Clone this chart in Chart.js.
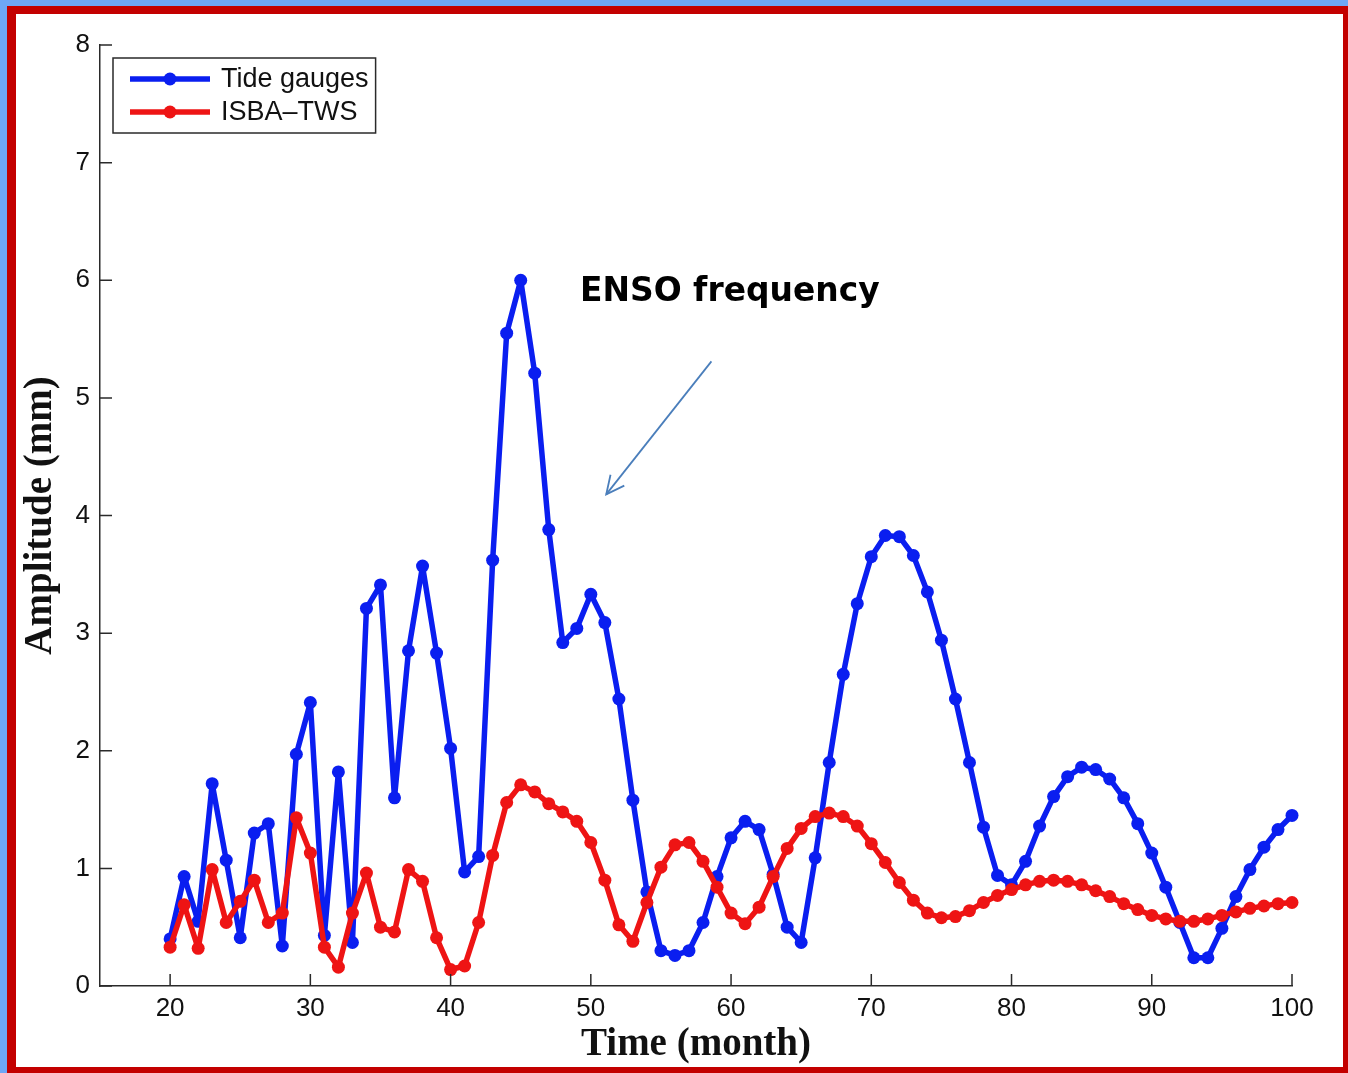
<!DOCTYPE html>
<html>
<head>
<meta charset="utf-8">
<script src="https://cdn.jsdelivr.net/npm/chart.js@4/dist/chart.umd.min.js"></script>
<style>
html,body{margin:0;padding:0;width:1348px;height:1073px;overflow:hidden;background:#6ea7f6}
#frame{position:absolute;left:7px;top:6px;width:1327px;height:1053px;background:#fff;border-style:solid;border-color:#c30000;border-width:8px 5px 6px 9px}
#c{position:absolute;left:0;top:0}
</style>
</head>
<body>
<div id="frame"></div>
<canvas id="c" width="1348" height="1073"></canvas>
<script>
// ---- data ----
const months = [20,21,22,23,24,25,26,27,28,29,30,31,32,33,34,35,36,37,38,39,40,
  41,42,43,44,45,46,47,48,49,50,51,52,53,54,55,56,57,58,59,60,
  61,62,63,64,65,66,67,68,69,70,71,72,73,74,75,76,77,78,79,80,
  81,82,83,84,85,86,87,88,89,90,91,92,93,94,95,96,97,98,99,100];
const tideGauges = [0.40,0.93,0.55,1.72,1.07,0.41,1.30,1.38,0.34,1.97,2.41,
  0.43,1.82,0.37,3.21,3.41,1.60,2.85,3.57,2.83,2.02,
  0.97,1.10,3.62,5.55,6.00,5.21,3.88,2.92,3.04,3.33,
  3.09,2.44,1.58,0.80,0.30,0.26,0.30,0.54,0.93,1.26,
  1.40,1.33,0.95,0.50,0.37,1.09,1.90,2.65,3.25,3.65,
  3.83,3.82,3.66,3.35,2.94,2.44,1.90,1.35,0.94,0.86,
  1.06,1.36,1.61,1.78,1.86,1.84,1.76,1.60,1.38,1.13,
  0.84,0.54,0.24,0.24,0.49,0.76,0.99,1.18,1.33,1.45];
const isbaTws = [0.33,0.69,0.32,0.99,0.54,0.72,0.90,0.54,0.62,1.43,1.13,
  0.33,0.16,0.62,0.96,0.50,0.46,0.99,0.89,0.41,0.14,
  0.17,0.54,1.11,1.56,1.71,1.65,1.55,1.48,1.40,1.22,
  0.90,0.52,0.38,0.71,1.01,1.20,1.22,1.06,0.84,0.62,
  0.53,0.67,0.93,1.17,1.34,1.44,1.47,1.44,1.36,1.21,
  1.05,0.88,0.73,0.62,0.58,0.59,0.64,0.71,0.77,0.82,
  0.86,0.89,0.90,0.89,0.86,0.81,0.76,0.70,0.65,0.60,
  0.57,0.55,0.55,0.57,0.60,0.63,0.66,0.68,0.70,0.71];
const seriesNames = ['Tide gauges', 'ISBA\u2013TWS'];
const xTicks = [20,30,40,50,60,70,80,90,100];
const yTicks = [0,1,2,3,4,5,6,7,8];
const noteText = 'ENSO frequency';

// ---- styles ----
const ink = '#2a2a2a';
const blue = '#0a1ef0';
const red = '#ee1414';

const inwardTicks = {
  id: 'inwardTicks',
  afterDraw(chart) {
    const {ctx, chartArea: a, scales: {x, y}} = chart;
    ctx.save();
    ctx.strokeStyle = ink;
    ctx.lineWidth = 1.5;
    ctx.beginPath();
    x.ticks.forEach(t => {
      const px = x.getPixelForValue(t.value);
      ctx.moveTo(px, a.bottom); ctx.lineTo(px, a.bottom - 12);
    });
    y.ticks.forEach(t => {
      const py = y.getPixelForValue(t.value);
      ctx.moveTo(a.left, py); ctx.lineTo(a.left + 12, py);
    });
    ctx.stroke();
    ctx.restore();
  }
};

const boxLegend = {
  id: 'boxLegend',
  afterDraw(chart) {
    const {ctx, chartArea: a} = chart;
    const bx = a.left + 13, by = a.top + 13, rowH = 33;
    ctx.save();
    ctx.font = '27px "Liberation Sans", Arial, sans-serif';
    const ds = chart.data.datasets;
    const textX = bx + 108;
    const w = 108 + Math.max(...ds.map(d => ctx.measureText(d.label).width)) + 7;
    const h = 75;
    ctx.fillStyle = '#fff';
    ctx.fillRect(bx, by, w, h);
    ctx.strokeStyle = ink;
    ctx.lineWidth = 1.5;
    ctx.strokeRect(bx, by, w, h);
    ds.forEach((d, i) => {
      const cy = by + 21 + i * rowH;
      ctx.strokeStyle = d.borderColor;
      ctx.lineWidth = 5.5;
      ctx.beginPath(); ctx.moveTo(bx + 17, cy); ctx.lineTo(bx + 97, cy); ctx.stroke();
      ctx.fillStyle = d.borderColor;
      ctx.beginPath(); ctx.arc(bx + 57, cy, 6.5, 0, Math.PI * 2); ctx.fill();
      ctx.fillStyle = '#111';
      ctx.textBaseline = 'middle';
      ctx.textAlign = 'left';
      ctx.fillText(d.label, textX, cy + 1);
    });
    ctx.restore();
  }
};

const ensoNote = {
  id: 'ensoNote',
  afterDraw(chart, args, o) {
    const {ctx, scales: {x, y}} = chart;
    ctx.save();
    const tx = x.getPixelForValue(o.textAt[0]), ty = y.getPixelForValue(o.textAt[1]);
    let size = 32;
    ctx.font = 'bold ' + size + 'px "Comic Sans MS", "DejaVu Sans", sans-serif';
    size = size * o.textWidth / ctx.measureText(o.text).width;
    ctx.font = 'bold ' + size.toFixed(1) + 'px "Comic Sans MS", "DejaVu Sans", sans-serif';
    ctx.fillStyle = '#000';
    ctx.textBaseline = 'middle';
    ctx.textAlign = 'left';
    ctx.fillText(o.text, tx, ty);
    const x0 = x.getPixelForValue(o.from[0]), y0 = y.getPixelForValue(o.from[1]);
    const x1 = x.getPixelForValue(o.to[0]), y1 = y.getPixelForValue(o.to[1]);
    ctx.strokeStyle = '#4a7ebb';
    ctx.lineWidth = 1.8;
    ctx.beginPath(); ctx.moveTo(x0, y0); ctx.lineTo(x1, y1); ctx.stroke();
    const ang = Math.atan2(y0 - y1, x0 - x1);
    const L = 20, da = 26 * Math.PI / 180;
    ctx.beginPath();
    ctx.moveTo(x1 + L * Math.cos(ang + da), y1 + L * Math.sin(ang + da));
    ctx.lineTo(x1, y1);
    ctx.lineTo(x1 + L * Math.cos(ang - da), y1 + L * Math.sin(ang - da));
    ctx.stroke();
    ctx.restore();
  }
};

const tickFont = {family: '"Liberation Sans", Arial, sans-serif', size: 26};
const titleFont = {family: '"Liberation Serif", "Times New Roman", serif', size: 39, weight: 'bold'};

const lineStyle = {borderWidth: 5.5, pointRadius: 6.5, pointBorderWidth: 0, tension: 0,
  borderJoinStyle: 'round', borderCapStyle: 'round', clip: false};

new Chart(document.getElementById('c'), {
  type: 'line',
  data: {
    datasets: [
      Object.assign({label: seriesNames[0], data: months.map((m, i) => ({x: m, y: tideGauges[i]})),
       borderColor: blue, backgroundColor: blue, pointBackgroundColor: blue, order: 1}, lineStyle),
      Object.assign({label: seriesNames[1], data: months.map((m, i) => ({x: m, y: isbaTws[i]})),
       borderColor: red, backgroundColor: red, pointBackgroundColor: red, order: 0}, lineStyle)
    ]
  },
  options: {
    responsive: false,
    animation: false,
    devicePixelRatio: 1,
    layout: {padding: {left: 8, top: 45, right: 56, bottom: 0}},
    plugins: {
      legend: {display: false},
      tooltip: {enabled: false},
      ensoNote: {text: noteText, textWidth: 300, textAt: [49.23, 5.90], from: [58.6, 5.31], to: [51.1, 4.18]}
    },
    scales: {
      x: {
        type: 'linear', min: 15, max: 100,
        afterBuildTicks: s => { s.ticks = xTicks.map(v => ({value: v})); },
        afterFit: s => { s.height = 87; },
        grid: {display: true, drawOnChartArea: false, drawTicks: false},
        border: {display: true, color: ink, width: 1.5},
        ticks: {font: tickFont, color: '#111', padding: 7, maxRotation: 0, autoSkip: false},
        title: {display: true, text: 'Time (month)', font: titleFont, color: '#111', padding: {top: 0, bottom: 5}}
      },
      y: {
        type: 'linear', min: 0, max: 8,
        afterBuildTicks: s => { s.ticks = yTicks.map(v => ({value: v})); },
        afterFit: s => { s.width = 92; },
        grid: {display: true, drawOnChartArea: false, drawTicks: false},
        border: {display: true, color: ink, width: 1.5},
        ticks: {font: tickFont, color: '#111', padding: 10, autoSkip: false},
        title: {display: true, text: 'Amplitude (mm)', font: titleFont, color: '#111', padding: {top: 10, bottom: 0}}
      }
    }
  },
  plugins: [inwardTicks, boxLegend, ensoNote]
});
</script>
</body>
</html>
